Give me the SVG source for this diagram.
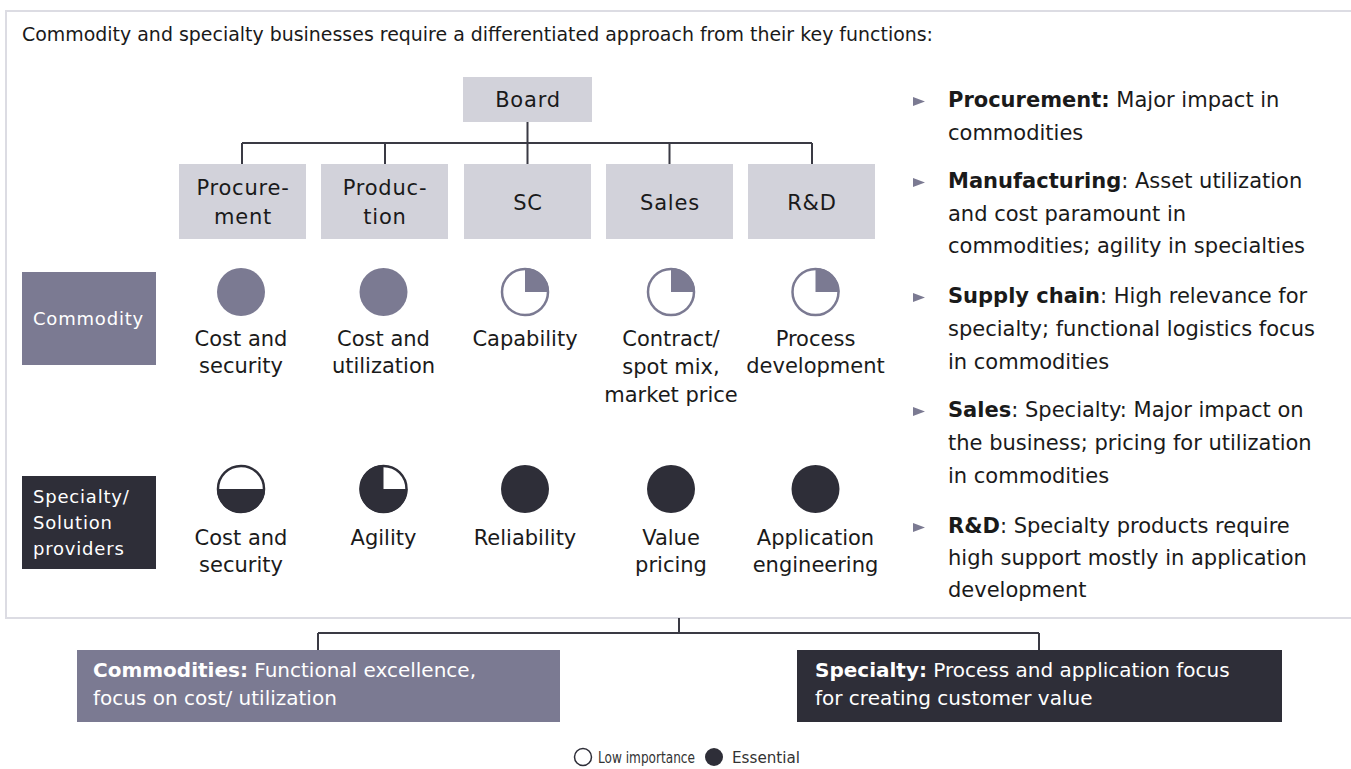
<svg xmlns="http://www.w3.org/2000/svg" width="1351" height="769" viewBox="0 0 1351 769">
<defs>
<style>
text{font-family:"DejaVu Sans","Noto Sans",sans-serif;fill:#1a1a1a}
.title{font-size:19px}
.fn{font-size:21px;letter-spacing:0.8px;text-anchor:middle}
.lbl{font-size:21px;text-anchor:middle}
.row{font-size:18px;letter-spacing:0.8px;fill:#ffffff}
.bul{font-size:21px}
.b{font-weight:bold}
.box{fill:#d2d2da}
.mid{fill:#7b7a92}
.dark{fill:#2e2e38}
.conn{stroke:#3a3a44;stroke-width:2;fill:none}
.ring-m{fill:#ffffff;stroke:#7b7a92;stroke-width:2.5}
.ring-d{fill:#ffffff;stroke:#2e2e38;stroke-width:2.5}
.tri{fill:#7b7a92}
.sum{font-size:20px;fill:#ffffff}
.leg{font-size:15.5px;fill:#333333}
</style>
</defs>
<rect width="1351" height="769" fill="#ffffff"/>
<rect id="frame" x="6" y="11" width="1360" height="607" fill="none" stroke="#dcdce3" stroke-width="2"/>
<text id="title" class="title" x="22" y="41" textLength="911" lengthAdjust="spacingAndGlyphs">Commodity and specialty businesses require a differentiated approach from their key functions:</text>

<g id="connectors">
<path class="conn" d="M527.5,122 V143 M242,143 H812 M242,143 V164 M385,143 V164 M527.5,143 V164 M669.5,143 V164 M812,143 V164"/>
<path class="conn" d="M679,618 V633 M318,633 H1039 M318,633 V650 M1039,633 V650"/>
</g>

<g id="board"><rect class="box" x="463" y="77" width="129" height="45"/><text class="fn" x="528" y="107">Board</text></g>
<g id="procurement"><rect class="box" x="179" y="164" width="127" height="75"/><text class="fn" x="243" y="195">Procure-</text><text class="fn" x="243" y="224">ment</text></g>
<g id="production"><rect class="box" x="321" y="164" width="127" height="75"/><text class="fn" x="385" y="195">Produc-</text><text class="fn" x="385" y="224">tion</text></g>
<g id="sc"><rect class="box" x="464" y="164" width="127" height="75"/><text class="fn" x="528" y="210">SC</text></g>
<g id="sales"><rect class="box" x="606" y="164" width="127" height="75"/><text class="fn" x="670" y="210">Sales</text></g>
<g id="rd"><rect class="box" x="748" y="164" width="127" height="75"/><text class="fn" x="812" y="210">R&amp;D</text></g>

<g id="row-commodity"><rect class="mid" x="22" y="272" width="134" height="93"/><text class="row" x="33" y="325">Commodity</text></g>
<g id="row-specialty"><rect class="dark" x="22" y="476" width="134" height="93"/>
<text class="row" x="33" y="503">Specialty/</text><text class="row" x="33" y="529">Solution</text><text class="row" x="33" y="555">providers</text></g>

<g id="c-proc">
<circle class="mid" cx="241" cy="292" r="24"/>
<text class="lbl" x="241" y="346">Cost and</text><text class="lbl" x="241" y="373">security</text></g>
<g id="c-prod">
<circle class="mid" cx="383.5" cy="292" r="24"/>
<text class="lbl" x="383.5" y="346">Cost and</text><text class="lbl" x="383.5" y="373">utilization</text></g>
<g id="c-sc">
<circle class="ring-m" cx="525" cy="292" r="23"/><path class="mid" d="M525,292 L525,268 A24,24 0 0 1 549,292 Z"/>
<text class="lbl" x="525" y="346">Capability</text></g>
<g id="c-sales">
<circle class="ring-m" cx="671" cy="292" r="23"/><path class="mid" d="M671,292 L671,268 A24,24 0 0 1 695,292 Z"/>
<text class="lbl" x="671" y="346">Contract/</text><text class="lbl" x="671" y="374">spot mix,</text><text class="lbl" x="671" y="402">market price</text></g>
<g id="c-rd">
<circle class="ring-m" cx="815.5" cy="292" r="23"/><path class="mid" d="M815.5,292 L815.5,268 A24,24 0 0 1 839.5,292 Z"/>
<text class="lbl" x="815.5" y="346">Process</text><text class="lbl" x="815.5" y="373">development</text></g>

<g id="s-proc">
<circle class="ring-d" cx="241" cy="489" r="23"/><path class="dark" d="M217,489 A24,24 0 0 0 265,489 Z"/>
<text class="lbl" x="241" y="545">Cost and</text><text class="lbl" x="241" y="572">security</text></g>
<g id="s-prod">
<circle class="ring-d" cx="383.5" cy="489" r="23"/><path class="dark" d="M383.5,489 L407.5,489 A24,24 0 1 1 383.5,465 Z"/>
<text class="lbl" x="383.5" y="545">Agility</text></g>
<g id="s-sc">
<circle class="dark" cx="525" cy="489" r="24"/>
<text class="lbl" x="525" y="545">Reliability</text></g>
<g id="s-sales">
<circle class="dark" cx="671" cy="489" r="24"/>
<text class="lbl" x="671" y="545">Value</text><text class="lbl" x="671" y="572">pricing</text></g>
<g id="s-rd">
<circle class="dark" cx="815.5" cy="489" r="24"/>
<text class="lbl" x="815.5" y="545">Application</text><text class="lbl" x="815.5" y="572">engineering</text></g>

<g id="bullets">
<polygon class="tri" points="913,97 925,101.5 913,106"/>
<text class="bul" x="948" y="107"><tspan class="b">Procurement:</tspan> Major impact in</text>
<text class="bul" x="948" y="140">commodities</text>
<polygon class="tri" points="913,178 925,182.5 913,187"/>
<text class="bul" x="948" y="188"><tspan class="b">Manufacturing</tspan>: Asset utilization</text>
<text class="bul" x="948" y="221">and cost paramount in</text>
<text class="bul" x="948" y="253">commodities; agility in specialties</text>
<polygon class="tri" points="913,293 925,297.5 913,302"/>
<text class="bul" x="948" y="303"><tspan class="b">Supply chain</tspan>: High relevance for</text>
<text class="bul" x="948" y="336">specialty; functional logistics focus</text>
<text class="bul" x="948" y="369">in commodities</text>
<polygon class="tri" points="913,407 925,411.5 913,416"/>
<text class="bul" x="948" y="417"><tspan class="b">Sales</tspan>: Specialty: Major impact on</text>
<text class="bul" x="948" y="450">the business; pricing for utilization</text>
<text class="bul" x="948" y="483">in commodities</text>
<polygon class="tri" points="913,523 925,527.5 913,532"/>
<text class="bul" x="948" y="533"><tspan class="b">R&amp;D</tspan>: Specialty products require</text>
<text class="bul" x="948" y="565">high support mostly in application</text>
<text class="bul" x="948" y="597">development</text>
</g>

<g id="sum-commodities"><rect class="mid" x="77" y="650" width="483" height="72"/>
<text class="sum" x="93" y="677"><tspan class="b" style="fill:#ffffff">Commodities:</tspan> Functional excellence,</text>
<text class="sum" x="93" y="705">focus on cost/ utilization</text></g>
<g id="sum-specialty"><rect class="dark" x="797" y="650" width="485" height="72"/>
<text class="sum" x="815" y="677"><tspan class="b" style="fill:#ffffff">Specialty:</tspan> Process and application focus</text>
<text class="sum" x="815" y="705">for creating customer value</text></g>

<g id="legend">
<circle cx="583" cy="757" r="8.5" fill="#ffffff" stroke="#2e2e38" stroke-width="1.5"/>
<text class="leg" x="598" y="763" textLength="97" lengthAdjust="spacingAndGlyphs">Low importance</text>
<circle class="dark" cx="714" cy="757" r="9"/>
<text class="leg" x="732" y="763" textLength="68" lengthAdjust="spacingAndGlyphs">Essential</text>
</g>
</svg>
